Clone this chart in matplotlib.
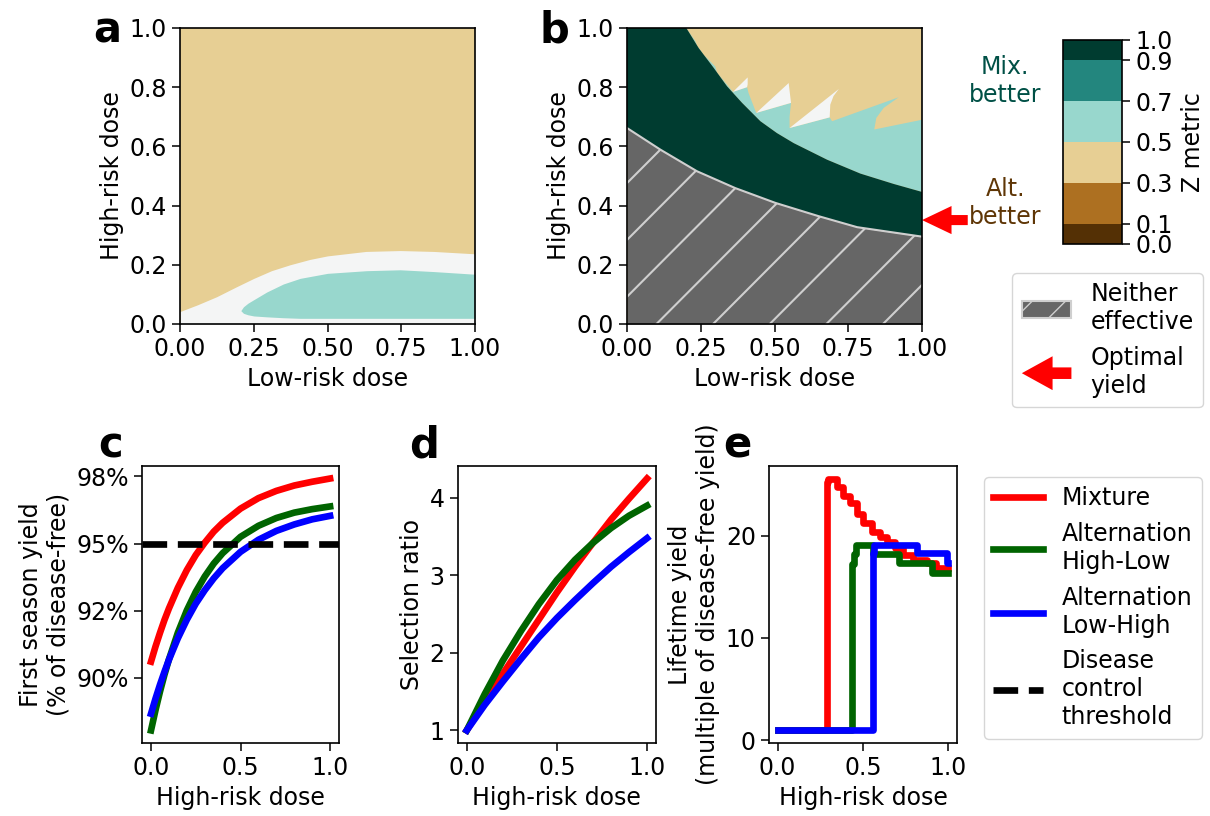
import numpy as np
import matplotlib
matplotlib.use('Agg')
import matplotlib.pyplot as plt
from matplotlib.colors import ListedColormap, BoundaryNorm
from matplotlib.cm import ScalarMappable
from matplotlib.patches import Patch, FancyArrow
from matplotlib.lines import Line2D
from matplotlib.legend_handler import HandlerPatch

plt.rcParams['font.family'] = 'DejaVu Sans'
plt.rcParams['font.size'] = 17
plt.rcParams['axes.linewidth'] = 1.2
plt.rcParams['xtick.major.size'] = 6
plt.rcParams['ytick.major.size'] = 6
plt.rcParams['xtick.major.width'] = 1.1
plt.rcParams['ytick.major.width'] = 1.1

# colour scale (Z metric)
cmap = plt.get_cmap('BrBG')
z_levels = [0.0, 0.1, 0.3, 0.5, 0.7, 0.9, 1.0]
z_colors = [cmap(v) for v in [0.0, 1 / 6, 2 / 6, 4 / 6, 5 / 6, 1.0]]
mid_color = cmap(0.5)

# ---- panel a : region boundaries (low-risk dose on x)
a_band_x = [0.0, 0.06, 0.124, 0.19, 0.25, 0.31, 0.373, 0.44, 0.5, 0.63, 0.746, 0.86, 1.0]
a_band_top = [0.042, 0.065, 0.092, 0.125, 0.154, 0.18, 0.20, 0.218, 0.23, 0.245, 0.248, 0.245, 0.237]
a_teal_x = [0.206, 0.215, 0.23, 0.25, 0.294, 0.35, 0.407, 0.5, 0.633, 0.746, 0.86, 1.0]
a_teal_top = [0.045, 0.058, 0.07, 0.082, 0.108, 0.135, 0.154, 0.171, 0.18, 0.183, 0.177, 0.168]
a_teal_bot = [0.045, 0.036, 0.031, 0.027, 0.024, 0.021, 0.019, 0.019, 0.019, 0.019, 0.019, 0.019]

# ---- panel b : region boundaries
b_gray_x = [0.0, 0.113, 0.237, 0.367, 0.503, 0.65, 0.78, 1.0]
b_gray_top = [0.662, 0.589, 0.516, 0.459, 0.409, 0.364, 0.327, 0.295]
b_dark_x = [0.201, 0.243, 0.294, 0.339, 0.390, 0.452, 0.508, 0.565, 0.678, 0.791, 0.904, 1.0]
b_dark_top = [1.0, 0.932, 0.865, 0.803, 0.747, 0.685, 0.645, 0.611, 0.555, 0.508, 0.473, 0.446]
b_teal_edge_x = [0.201, 0.232, 0.243, 0.299, 0.305, 0.359, 0.407, 0.412, 0.438, 0.556,
                 0.551, 0.551, 0.687, 0.695, 0.921, 0.870, 0.845, 0.838, 1.0]
b_teal_edge_y = [1.000, 0.955, 0.927, 0.870, 0.850, 0.784, 0.800, 0.780, 0.713, 0.747,
                 0.700, 0.662, 0.698, 0.685, 0.766, 0.730, 0.696, 0.657, 0.690]
b_white_teeth = [
    ([0.359, 0.409, 0.409, 0.407], [0.784, 0.833, 0.810, 0.800]),
    ([0.438, 0.548, 0.552, 0.556], [0.713, 0.814, 0.780, 0.747]),
    ([0.551, 0.718, 0.700, 0.689, 0.687], [0.662, 0.794, 0.770, 0.741, 0.698]),
]
optimal_low, optimal_high = 1.0, 0.351

# ---- panels c, d : smooth curves vs high-risk dose
c_dose = [0.0, 0.025, 0.05, 0.075, 0.1, 0.15, 0.2, 0.25, 0.3, 0.35, 0.4, 0.5, 0.6, 0.7, 0.8, 0.9, 1.0]
c_mix = [0.906, 0.9116, 0.9167, 0.9215, 0.9258, 0.9335, 0.9401, 0.9457, 0.9503, 0.9544, 0.9577,
         0.963, 0.9669, 0.9696, 0.9716, 0.973, 0.9742]
c_hl = [0.8804, 0.8879, 0.8948, 0.9011, 0.9068, 0.9168, 0.9251, 0.932, 0.9377, 0.9425, 0.9464,
        0.9525, 0.9566, 0.9595, 0.9615, 0.9628, 0.9638]
c_lh = [0.8866, 0.8922, 0.8974, 0.9022, 0.9067, 0.9147, 0.9216, 0.9276, 0.9326, 0.937, 0.9408,
        0.9469, 0.9514, 0.9547, 0.9571, 0.959, 0.9603]
threshold = 0.95

d_dose = [0.0, 0.1, 0.2, 0.3, 0.4, 0.5, 0.6, 0.7, 0.8, 0.9, 1.0]
d_mix = [1.0, 1.37, 1.73, 2.08, 2.43, 2.78, 3.11, 3.42, 3.72, 3.99, 4.25]
d_hl = [1.0, 1.47, 1.9, 2.28, 2.63, 2.94, 3.2, 3.42, 3.61, 3.77, 3.9]
d_lh = [1.0, 1.33, 1.63, 1.92, 2.2, 2.45, 2.68, 2.9, 3.11, 3.3, 3.48]

# ---- panel e : lifetime yield (step changes)
e_mix_x = [0.0, 0.288, 0.298, 0.347, 0.382, 0.425, 0.464, 0.503, 0.552, 0.600, 0.640, 0.688,
           0.737, 0.795, 0.873, 0.930, 1.0]
e_mix_y = [0.95, 25.3, 25.6, 24.8, 23.9, 23.2, 22.1, 21.2, 20.4, 19.9, 19.4, 18.8,
           18.1, 17.6, 17.3, 16.8, 16.8]
e_hl_x = [0.0, 0.438, 0.447, 0.458, 0.560, 0.708, 0.905, 1.0]
e_hl_y = [0.95, 17.2, 18.2, 19.05, 18.2, 17.3, 16.4, 16.4]
e_lh_x = [0.0, 0.557, 0.565, 0.815, 0.99, 1.0]
e_lh_y = [0.95, 18.3, 19.1, 18.3, 17.3, 17.3]

lw = 4.8
gray_fill = '#666666'
hatch_col = '#cfcfcf'

fig = plt.figure(figsize=(12.1, 8.16), dpi=100)

# ------------------------------------------------------------ panel a
ax_a = fig.add_axes([0.1488, 0.603, 0.2438, 0.3627])
ax_a.fill_between([0, 1], 0, 1, color=z_colors[2], lw=0)
ax_a.fill_between(a_band_x, 0, a_band_top, color=mid_color, lw=0)
ax_a.fill_between(a_teal_x, a_teal_bot, a_teal_top, color=z_colors[3], lw=0)
ax_a.set_xlim(0, 1)
ax_a.set_ylim(0, 1)
ax_a.set_xticks([0, 0.25, 0.5, 0.75, 1.0])
ax_a.set_yticks([0, 0.2, 0.4, 0.6, 0.8, 1.0])
ax_a.set_xlabel('Low-risk dose')
ax_a.set_ylabel('High-risk dose')

# ------------------------------------------------------------ panel b
ax_b = fig.add_axes([0.5182, 0.603, 0.2438, 0.3627])
ax_b.fill_between([0, 1], 0, 1, color=z_colors[2], lw=0)
teal_x = list(b_teal_edge_x) + [1.0] + b_dark_x[::-1]
teal_y = list(b_teal_edge_y) + [b_dark_top[-1]] + b_dark_top[::-1]
ax_b.fill(teal_x, teal_y, color=z_colors[3], lw=0)
for tx, ty in b_white_teeth:
    ax_b.fill(tx, ty, color=mid_color, lw=0)
dark_x = [0.0] + b_dark_x + [1.0] + b_gray_x[::-1]
dark_y = [1.0] + b_dark_top + [b_gray_top[-1]] + b_gray_top[::-1]
ax_b.fill(dark_x, dark_y, color=z_colors[5], lw=0)
gray = ax_b.fill_between(b_gray_x, 0, b_gray_top, color=gray_fill, lw=0)
clip_path = gray.get_paths()[0]
for k in range(-6, 7):
    off = -0.1 + k * 0.192
    ln, = ax_b.plot([0, 1], [off, 1 + off], color=hatch_col, lw=1.5)
    ln.set_clip_path(clip_path, ax_b.transData)
ax_b.plot(b_gray_x, b_gray_top, color=hatch_col, lw=1.5)
ax_b.arrow(optimal_low + 0.155, optimal_high, -0.155, 0, width=0.034, head_width=0.095,
           head_length=0.1, length_includes_head=True, color='red', lw=0, clip_on=False)
ax_b.set_xlim(0, 1)
ax_b.set_ylim(0, 1)
ax_b.set_xticks([0, 0.25, 0.5, 0.75, 1.0])
ax_b.set_yticks([0, 0.2, 0.4, 0.6, 0.8, 1.0])
ax_b.set_xlabel('Low-risk dose')
ax_b.set_ylabel('High-risk dose')

# ------------------------------------------------------------ colorbar
cax = fig.add_axes([0.8785, 0.701, 0.0488, 0.25])
sm = ScalarMappable(norm=BoundaryNorm(z_levels, 6), cmap=ListedColormap(z_colors))
cb = fig.colorbar(sm, cax=cax, boundaries=z_levels, spacing='proportional', ticks=z_levels)
cb.ax.set_yticklabels(['%.1f' % v for v in z_levels])
cb.outline.set_linewidth(1.2)
cb.set_label('Z metric', labelpad=6)
cax.text(-0.98, 0.8, 'Mix.\nbetter', transform=cax.transAxes, ha='center', va='center',
         color=cmap(0.95))
cax.text(-0.98, 0.2, 'Alt.\nbetter', transform=cax.transAxes, ha='center', va='center',
         color=cmap(0.02))


# legend for the maps
def make_arrow(legend, orig_handle, xdescent, ydescent, width, height, fontsize):
    return FancyArrow(width - xdescent, height / 2 - ydescent, -width, 0, width=0.7 * height,
                      head_width=2.05 * height, head_length=0.62 * width,
                      length_includes_head=True)


map_handles = [Patch(facecolor=gray_fill, edgecolor=hatch_col, hatch='/', lw=1.5),
               Patch(facecolor='red', edgecolor='none')]
fig.legend(map_handles, ['Neither\neffective', 'Optimal\nyield'], loc='upper right',
           bbox_to_anchor=(1203 / 1210, 1 - 273 / 816), borderaxespad=0, handlelength=2.1,
           handler_map={map_handles[1]: HandlerPatch(patch_func=make_arrow)})

# ------------------------------------------------------------ panel c
ax_c = fig.add_axes([0.1174, 0.0895, 0.1628, 0.3395])
ax_c.plot(c_dose, c_mix, color='red', lw=lw)
ax_c.plot(c_dose, c_hl, color='darkgreen', lw=lw)
ax_c.plot(c_dose, c_lh, color='blue', lw=lw)
ax_c.axhline(threshold, color='black', ls='--', lw=lw)
ax_c.set_yticks([0.9, 0.925, 0.95, 0.975])
ax_c.set_yticklabels(['90%', '92%', '95%', '98%'])
ax_c.set_xticks([0, 0.5, 1.0])
ax_c.set_xlabel('High-risk dose')
ax_c.set_ylabel('First season yield\n(% of disease-free)')

# ------------------------------------------------------------ panel d
ax_d = fig.add_axes([0.3783, 0.0895, 0.1639, 0.3395])
ax_d.plot(d_dose, d_mix, color='red', lw=lw)
ax_d.plot(d_dose, d_hl, color='darkgreen', lw=lw)
ax_d.plot(d_dose, d_lh, color='blue', lw=lw)
ax_d.set_yticks([1, 2, 3, 4])
ax_d.set_xticks([0, 0.5, 1.0])
ax_d.set_xlabel('High-risk dose')
ax_d.set_ylabel('Selection ratio')

# ------------------------------------------------------------ panel e
ax_e = fig.add_axes([0.6355, 0.0895, 0.1554, 0.3395])
ax_e.step(e_mix_x, e_mix_y, where='post', color='red', lw=lw)
ax_e.step(e_hl_x, e_hl_y, where='post', color='darkgreen', lw=lw)
ax_e.step(e_lh_x, e_lh_y, where='post', color='blue', lw=lw)
ax_e.set_yticks([0, 10, 20])
ax_e.set_xticks([0, 0.5, 1.0])
ax_e.set_xlabel('High-risk dose')
ax_e.set_ylabel('Lifetime yield\n(multiple of disease-free yield)')

line_handles = [Line2D([], [], color='red', lw=lw),
                Line2D([], [], color='darkgreen', lw=lw),
                Line2D([], [], color='blue', lw=lw),
                Line2D([], [], color='black', lw=lw, ls='--')]
fig.legend(line_handles, ['Mixture', 'Alternation\nHigh-Low', 'Alternation\nLow-High',
                          'Disease\ncontrol\nthreshold'],
           loc='upper right', bbox_to_anchor=(1202 / 1210, 1 - 477 / 816), borderaxespad=0,
           handlelength=2.1)

# panel letters
for ax, letter, x, y in [(ax_a, 'a', -0.295, 0.95), (ax_b, 'b', -0.295, 0.95),
                         (ax_c, 'c', -0.223, 1.032), (ax_d, 'd', -0.246, 1.032),
                         (ax_e, 'e', -0.245, 1.032)]:
    ax.text(x, y, letter, transform=ax.transAxes, fontsize=30, fontweight='bold',
            ha='left', va='baseline')

fig.savefig('out.png', dpi=100)
